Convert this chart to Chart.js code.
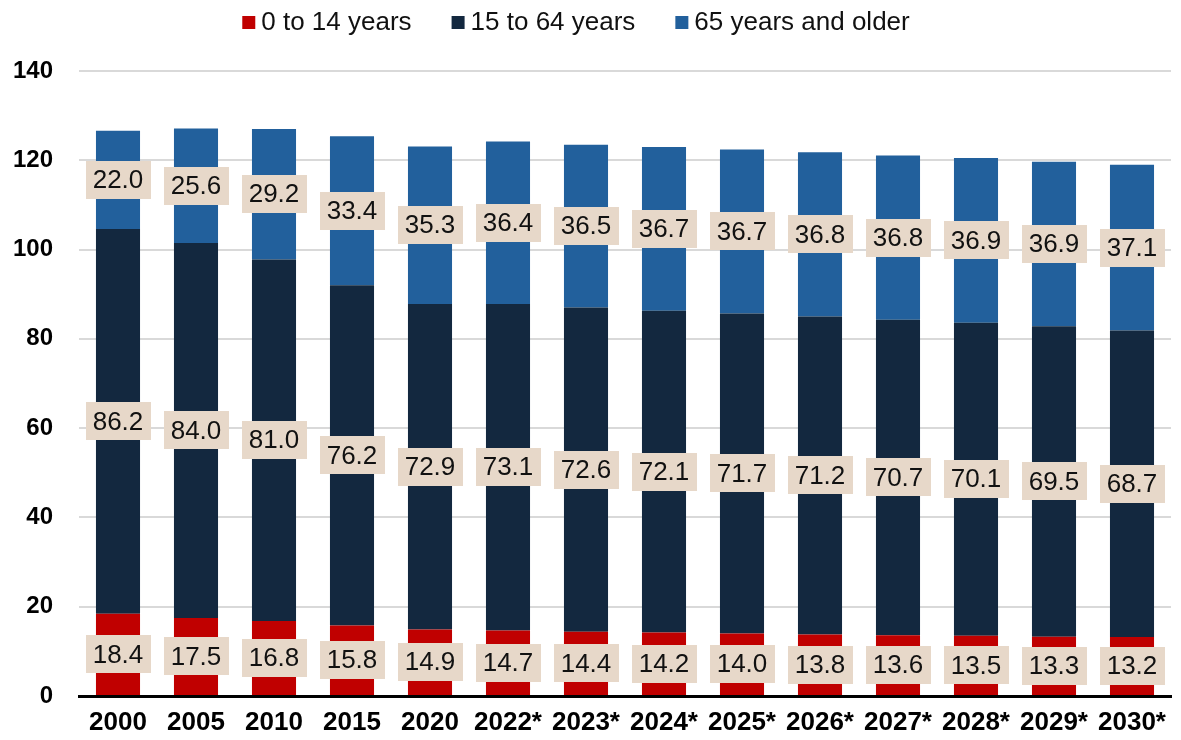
<!DOCTYPE html>
<html>
<head>
<meta charset="utf-8">
<script src="https://cdn.jsdelivr.net/npm/chart.js@4"></script>
<style>
html,body{margin:0;padding:0;background:#fff;}
#wrap{width:1181px;height:740px;position:relative;}
</style>
</head>
<body>
<div id="wrap"><canvas id="c" width="1181" height="740"></canvas></div>
<script>
const categories = ["2000","2005","2010","2015","2020","2022*","2023*","2024*","2025*","2026*","2027*","2028*","2029*","2030*"];
const seriesNames = ["0 to 14 years","15 to 64 years","65 years and older"];
const age0to14 = [18.4,17.5,16.8,15.8,14.9,14.7,14.4,14.2,14.0,13.8,13.6,13.5,13.3,13.2];
const age15to64 = [86.2,84.0,81.0,76.2,72.9,73.1,72.6,72.1,71.7,71.2,70.7,70.1,69.5,68.7];
const age65plus = [22.0,25.6,29.2,33.4,35.3,36.4,36.5,36.7,36.7,36.8,36.8,36.9,36.9,37.1];
const yTicks = [0,20,40,60,80,100,120,140];

const colors = ["#C00000","#13283F","#22609C"];
const FONT = "'Liberation Sans', Arial, sans-serif";

const labelPlugin = {
  id: 'boxLabels',
  afterDatasetsDraw(chart) {
    const ctx = chart.ctx;
    ctx.save();
    ctx.font = "26px " + FONT;
    ctx.textAlign = 'center';
    ctx.textBaseline = 'middle';
    chart.data.datasets.forEach((ds, di) => {
      const meta = chart.getDatasetMeta(di);
      meta.data.forEach((bar, i) => {
        const p = bar.getProps(['x','y','base'], true);
        const cy = (p.y + p.base) / 2;
        const txt = ds.data[i].toFixed(1);
        const w = ctx.measureText(txt).width + 14;
        const h = 38;
        ctx.fillStyle = '#E7D8C9';
        ctx.fillRect(Math.round(p.x - w/2), Math.round(cy - h/2), Math.round(w), h);
        ctx.fillStyle = '#111';
        ctx.fillText(txt, p.x, cy + 1);
      });
    });
    ctx.restore();
  }
};

const legendPlugin = {
  id: 'customLegend',
  afterDraw(chart) {
    const ctx = chart.ctx;
    ctx.save();
    ctx.font = "26px " + FONT;
    ctx.textBaseline = 'middle';
    ctx.textAlign = 'left';
    const box = 13, gapText = 6, gapItem = 40;
    const widths = seriesNames.map(n => box + gapText + ctx.measureText(n).width);
    const total = widths.reduce((a,b)=>a+b,0) + gapItem*(seriesNames.length-1);
    let x = 576 - total/2;
    const cy = 23;
    seriesNames.forEach((n, i) => {
      ctx.fillStyle = colors[i];
      ctx.fillRect(x, cy - 7, box, box);
      ctx.fillStyle = '#111';
      ctx.fillText(n, x + box + gapText, cy);
      x += widths[i] + gapItem;
    });
    ctx.restore();
  }
};

new Chart(document.getElementById('c'), {
  type: 'bar',
  data: {
    labels: categories,
    datasets: [
      {label: seriesNames[0], data: age0to14, backgroundColor: colors[0]},
      {label: seriesNames[1], data: age15to64, backgroundColor: colors[1]},
      {label: seriesNames[2], data: age65plus, backgroundColor: colors[2]}
    ]
  },
  options: {
    responsive: false,
    animation: false,
    devicePixelRatio: 1,
    layout: {padding: {top: 71, right: 10, bottom: 0, left: 0}},
    datasets: {bar: {categoryPercentage: 1.0, barPercentage: 0.565}},
    plugins: {legend: {display: false}, tooltip: {enabled: false}},
    scales: {
      x: {
        stacked: true,
        grid: {display: false, drawTicks: false},
        border: {display: true, color: '#000', width: 3},
        ticks: {color: '#000', font: {family: FONT, size: 26, weight: 'bold'}, padding: 11, maxRotation: 0, autoSkip: false},
        afterFit(s) { s.height = 44; }
      },
      y: {
        stacked: true,
        min: 0, max: 140,
        afterBuildTicks(s) { s.ticks = yTicks.map(v => ({value: v})); },
        grid: {color: '#D9D9D9', lineWidth: 2, drawTicks: false},
        border: {display: false},
        ticks: {color: '#000', font: {family: FONT, size: 24, weight: 'bold'}, padding: 26},
        afterFit(s) { s.width = 79; }
      }
    }
  },
  plugins: [labelPlugin, legendPlugin]
});
</script>
</body>
</html>
